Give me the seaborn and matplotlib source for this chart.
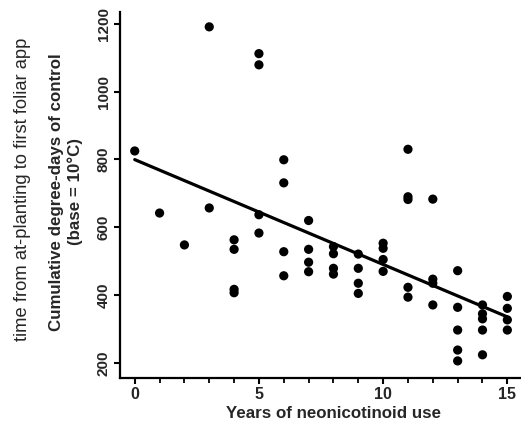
import matplotlib
matplotlib.use("Agg")
import matplotlib.pyplot as plt
from matplotlib.ticker import MultipleLocator
import seaborn as sns
import pandas as pd

# years of neonicotinoid use, one entry per field observation
years = [0, 1, 2,
         3, 3,
         4, 4, 4, 4,
         5, 5, 5, 5,
         6, 6, 6, 6,
         7, 7, 7, 7,
         8, 8, 8, 8,
         9, 9, 9, 9,
         10, 10, 10, 10,
         11, 11, 11, 11, 11,
         12, 12, 12, 12,
         13, 13, 13, 13, 13,
         14, 14, 14, 14, 14,
         15, 15, 15, 15]

# cumulative degree-days (base 10 C) to first foliar application
degree_days = [825, 642, 548,
               1191, 657,
               563, 535, 417, 407,
               1112, 1079, 637, 583,
               799, 731, 528, 457,
               620, 535, 497, 469,
               543, 522, 479, 462,
               521, 479, 435, 405,
               553, 538, 505, 470,
               830, 690, 682, 423, 394,
               683, 447, 435, 371,
               472, 364, 297, 238, 206,
               371, 345, 330, 297, 224,
               396, 361, 327, 297]

x_major = [0, 5, 10, 15]
y_major = [200, 400, 600, 800, 1000, 1200]

df = pd.DataFrame({"years": years, "dd": degree_days})

sns.set_style("ticks")
plt.rcParams['font.family'] = ['Liberation Sans', 'DejaVu Sans']

fig = plt.figure(figsize=(5.21, 4.26), dpi=100)
ax = fig.add_axes([0.230, 0.113, 0.77, 0.859])

sns.scatterplot(data=df, x="years", y="dd", color="black", s=44,
                edgecolor="none", ax=ax, zorder=3)
sns.regplot(data=df, x="years", y="dd", scatter=False, ci=None,
            color="black", line_kws={"lw": 2.3}, ax=ax)

ax.set_xlim(-0.6, 15.55)
ax.set_ylim(156, 1235)
ax.set_xticks(x_major)
ax.xaxis.set_minor_locator(MultipleLocator(1))
ax.set_yticks(y_major)
ax.set_xticklabels([str(v) for v in x_major], fontsize=11.5, fontweight="bold")
ax.set_yticklabels([str(v) for v in y_major], fontsize=11, fontweight="bold",
                   rotation=90, va="center")

ax.tick_params(axis="both", which="major", width=1.5, length=4.5, color="black", pad=2)
ax.tick_params(axis="x", which="minor", width=1.3, length=3.5, color="black")
for side in ["left", "bottom"]:
    ax.spines[side].set_linewidth(1.6)
    ax.spines[side].set_color("black")
sns.despine(ax=ax)

ax.set_xlabel("Years of neonicotinoid use", fontsize=12.2, fontweight="bold")
ax.xaxis.set_label_coords(0.532, -0.078)
ax.set_ylabel("")

fig.text(0.127, 0.55, "Cumulative degree-days of control\n(base = 10\u00b0C)",
         rotation=90, ha="center", va="center", fontsize=12.2,
         fontweight="bold", linespacing=1.3, multialignment="center")
fig.text(0.043, 0.555, "time from at-planting to first foliar app",
         rotation=90, ha="center", va="center", fontsize=13.2)

fig.savefig("out.png", dpi=100)
